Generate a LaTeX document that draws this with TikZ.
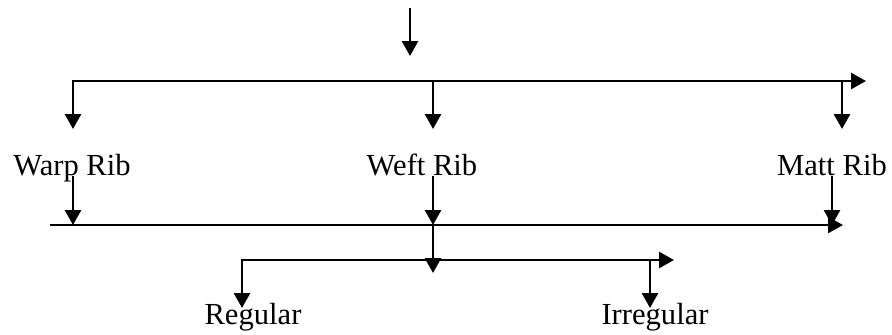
\documentclass[tikz,border=0pt]{standalone}
\usepackage{fontspec}
\setmainfont{Liberation Serif}
\usetikzlibrary{arrows.meta}

\tikzset{
  flow/.style={line width=1.4pt, -{Triangle[width=8pt,length=7.5pt]}},
  twoway/.style={line width=1.4pt, {Triangle[width=8pt,length=7.5pt]}-{Triangle[width=8pt,length=7.5pt]}},
  ribtext/.style={font=\fontsize{15.3}{18}\selectfont, inner sep=0pt, anchor=base}
}

\begin{document}
\begin{tikzpicture}[x=0.5pt,y=-0.5pt]

    \useasboundingbox (0,0) rectangle (892,334);

    % Define coordinates for the incoming arrow and the first branch line
    \coordinate (in) at (410,8);
    \coordinate (inEnd) at (410,56);
    \coordinate (b1L) at (73,81);
    \coordinate (b1M) at (433,81);
    \coordinate (b1N) at (842,81);
    \coordinate (b1R) at (866,81);

    % Define coordinates for the tips above the labels
    \coordinate (warpTip) at (73,129);
    \coordinate (weftTip) at (433,129);
    \coordinate (mattTip) at (842,129);

    % Add the labels of the three kinds of rib
    \node[ribtext] (warp) at (72,175) {Warp Rib};
    \node[ribtext] (weft) at (422,175) {Weft Rib};
    \node[ribtext] (matt) at (832,175) {Matt Rib};

    % Define coordinates for the second line
    \coordinate (warpOut) at (73,176);
    \coordinate (weftOut) at (433,176);
    \coordinate (mattOut) at (832,176);
    \coordinate (b2L) at (50,225);
    \coordinate (b2R) at (843,225);
    \coordinate (warpIn) at (73,225);
    \coordinate (weftIn) at (433,225);
    \coordinate (mattIn) at (832,225);

    % Define coordinates for the third line
    \coordinate (weftDown) at (433,273);
    \coordinate (b3L) at (242,260);
    \coordinate (b3R) at (674,260);
    \coordinate (b3N) at (650,260);
    \coordinate (regTip) at (242,308);
    \coordinate (irrTip) at (650,308);

    % Add the labels of the weft rib kinds
    \node[ribtext] (reg) at (253,324) {Regular};
    \node[ribtext] (irr) at (655,324) {Irregular};

    % Draw the incoming arrow and the first branch line
    \draw[flow] (in) -- (inEnd);
    \draw[twoway] (warpTip) -- (b1L) -- (b1R);
    \draw[flow] (b1M) -- (weftTip);
    \draw[flow] (b1N) -- (mattTip);

    % Draw the arrows from the labels to the second line
    \draw[line width=1.4pt] (b2L) -- (weftIn);
    \draw[flow] (weftIn) -- (b2R);
    \draw[flow] (warpOut) -- (warpIn);
    \draw[flow] (weftOut) -- (weftIn);
    \draw[flow] (mattOut) -- (mattIn);

    % Draw the third line with its two branches
    \draw[flow] (weftIn) -- (weftDown);
    \draw[twoway] (regTip) -- (b3L) -- (b3R);
    \draw[flow] (b3N) -- (irrTip);

\end{tikzpicture}
\end{document}
